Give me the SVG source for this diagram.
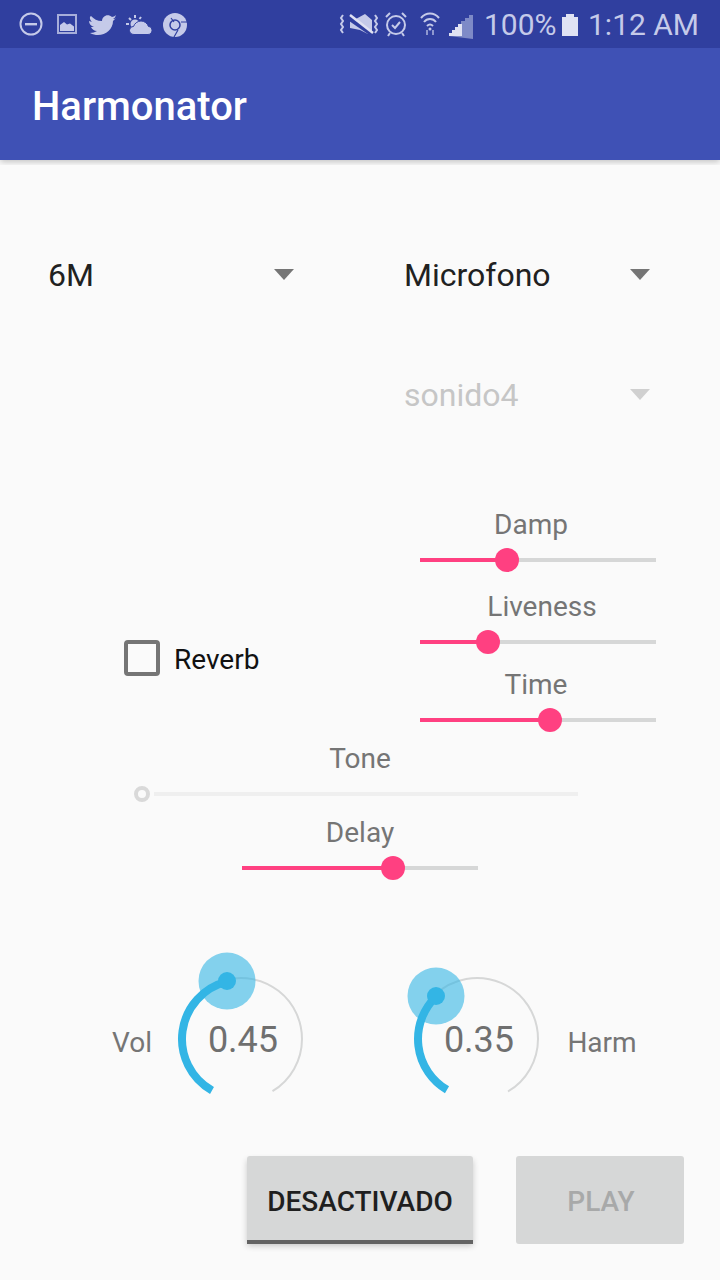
<svg xmlns="http://www.w3.org/2000/svg" width="720" height="1280" viewBox="0 0 720 1280">
<style>
text{font-family:Roboto,"Liberation Sans",sans-serif}
.lab{font-size:28px;fill:#757575;text-anchor:middle}
.track{stroke:#d6d7d7;stroke-width:4;fill:none}
.on{stroke:#ff4081;stroke-width:4;fill:none}
.thumb{fill:#ff4081}
.thin{stroke:#d6d7d7;stroke-width:2;fill:none}
.thick{stroke:#33b5e5;stroke-width:8;fill:none}
.halo{fill:#33b5e5;fill-opacity:.6}
.dot{fill:#33b5e5}
.val{font-size:36px;fill:#6f6f6f;text-anchor:middle}
.ic{fill:#c5cae9}
.ics{fill:none;stroke:#c5cae9;stroke-width:2}
.arrow{fill:#757575}
</style>
<defs>
<filter id="sh" x="-10%" y="-20%" width="120%" height="150%"><feGaussianBlur stdDeviation="3"/></filter>
</defs>
<rect width="720" height="1280" fill="#fafafa"/>
<g id="appbar">
<rect x="0" y="153" width="720" height="9" fill="#000" opacity=".22" filter="url(#sh)"/>
<rect width="720" height="48" fill="#303f9f"/>
<rect y="48" width="720" height="112" fill="#3f51b5"/>
<text x="32" y="120" font-size="40" font-weight="500" fill="#fff" textLength="215" lengthAdjust="spacingAndGlyphs">Harmonator</text>
</g>
<g id="status-left">
<circle cx="31" cy="24" r="10.5" class="ics"/><rect x="25" y="23" width="12" height="2.400" class="ic"/>
<rect x="58" y="15" width="18" height="18" class="ics" stroke-opacity=".8"/><path class="ic" d="M60 31v-6l4-3 3 2.500 3-1 4 3v4.500z"/>
<path class="ic" d="M91 16c3 3 6 5 11 5 0-5 6-8 10-4 1 0 3-1 4-2-.5 1.500-1 3-3 4 1 0 2 0 3-1-1 1-2 2-3 3 0 8-7 14-15 14-3 0-5-.5-8-2 3 0 5-1 7-2-3 0-5-2-6-4h3c-3-1-5-3-5-6l3 1c-2-2-3-5-1-6z"/>
<circle cx="135" cy="24" r="4.500" class="ic"/><path class="ics" stroke-width="1.500" d="M126 24h3M135 15v3M129 18l2 2M141 17l-1.500 2"/>
<path class="ic" stroke="#303f9f" stroke-width="1" d="M134 34.500c-3 0-4.500-2-4.500-4s1.500-4 4-4c1-3 4-5.500 7.500-5.500s6.500 2.500 7.500 5.500c2.500 0 3.500 2 3.500 4s-1.500 4-4 4z"/>
<circle cx="175" cy="25" r="12" class="ic"/><circle cx="175" cy="25" r="5" fill="none" stroke="#303f9f" stroke-width="1.500"/><path d="M171 18l3 4M181 22h6M178 30l-4 7" stroke="#303f9f" stroke-width="1.200" fill="none"/>
</g>
<g id="status-right">
<path class="ic" d="M350 20l4 0 11-6 7 6v14l-4 0-8-4-10-2z"/><path d="M347 17l26 18" stroke="#303f9f" stroke-width="4"/><path d="M350 15l23 18" stroke="#e0e2f3" stroke-width="2.500"/>
<path class="ics" stroke-width="1.500" d="M343 15l-2 3 2 3-2 3 2 3-2 3 2 3M375 15l2 3-2 3 2 3-2 3 2 3-2 3"/>
<circle cx="396" cy="25" r="9" class="ics"/><path class="ics" d="M392 25l3 3 5-6M386 17l4-4M406 17l-4-4M390 33l-2 3M402 33l2 3"/>
<path class="ics" stroke-width="2" d="M421 18c5-6 13-6 18 0M424 22c3-4 9-4 12 0M427 26c2-2 4-2 6 0"/><circle cx="430" cy="29" r="1.500" class="ic"/>
<path d="M427 35v-5M433 35v-5" stroke="#8f98cf" stroke-width="2"/>
<path d="M449 36v-3h3v-3h3v-3h3v-3h3v-3h4v-3h4v-3h4v24z" fill="#7e8ac7"/><path d="M449 36v-3h3v-3h3v-3h3v-3h4v12z" fill="#dfe1f2"/>
<text x="484" y="35" font-size="30" fill="#c5cae9">100%</text>
<path d="M562 17h4v-3h8v3h4v19h-16z" fill="#e0e2f3"/>
<text x="588" y="35" font-size="30" fill="#c5cae9">1:12 AM</text>
</g>
<g id="spinner-6m"><text x="48" y="286" font-size="32" fill="#212121">6M</text><path class="arrow" d="M274 269h20l-10 11z"/></g>
<g id="spinner-mic"><text x="404" y="286" font-size="32" fill="#212121">Microfono</text><path class="arrow" d="M630 269h20l-10 11z"/></g>
<g id="spinner-sonido"><text x="404" y="406" font-size="32" fill="#c6c6c6">sonido4</text><path d="M630 389h20l-10 11z" fill="#d0d0d0"/></g>
<g id="damp"><text class="lab" x="531" y="534">Damp</text><path class="track" d="M507 560H656"/><path class="on" d="M420 560H507"/><circle class="thumb" cx="507" cy="560" r="12"/></g>
<g id="liveness"><text class="lab" x="542" y="616">Liveness</text><path class="track" d="M488 642H656"/><path class="on" d="M420 642H488"/><circle class="thumb" cx="488" cy="642" r="12"/></g>
<g id="time"><text class="lab" x="536" y="694">Time</text><path class="track" d="M550 720H656"/><path class="on" d="M420 720H550"/><circle class="thumb" cx="550" cy="720" r="12"/></g>
<g id="reverb"><rect x="126" y="642" width="32" height="32" rx="2" fill="none" stroke="#757575" stroke-width="4"/><text x="174" y="669" font-size="28" fill="#111">Reverb</text></g>
<g id="tone"><text class="lab" x="360" y="768">Tone</text><path d="M154 794H578" stroke="#efefef" stroke-width="4"/><circle cx="142" cy="794" r="6" fill="none" stroke="#d9d9d9" stroke-width="4"/></g>
<g id="delay"><text class="lab" x="360" y="842">Delay</text><path class="track" d="M393 868H478"/><path class="on" d="M242 868H393"/><circle class="thumb" cx="393" cy="868" r="12"/></g>
<g id="vol">
<text class="lab" x="132" y="1052">Vol</text>
<path class="thin" d="M226.700 979.700A61 61 0 0 1 302 1039A61 61 0 0 1 272.500 1091.200"/>
<path class="thick" d="M212 1090.400A59 59 0 0 1 227 981.700"/>
<circle class="halo" cx="227" cy="981" r="28.500"/><circle class="dot" cx="227" cy="981" r="9"/>
<text class="val" x="243" y="1052">0.45</text>
</g>
<g id="harm">
<text class="lab" x="602" y="1052">Harm</text>
<path class="thin" d="M434.900 994.800A61 61 0 0 1 538 1039A61 61 0 0 1 508 1091.500"/>
<path class="thick" d="M447 1089.800A59 59 0 0 1 436 996.600"/>
<circle class="halo" cx="436" cy="996" r="28.500"/><circle class="dot" cx="436" cy="996" r="9"/>
<text class="val" x="479" y="1052">0.35</text>
</g>
<g id="btn-desactivado">
<rect x="247" y="1160" width="226" height="86" fill="#000" opacity=".2" filter="url(#sh)"/>
<path d="M250 1156h220a3 3 0 0 1 3 3v85h-226v-85a3 3 0 0 1 3-3z" fill="#d6d7d7"/>
<rect x="247" y="1240" width="226" height="4" fill="#636363"/>
<text x="360" y="1211" font-size="28" font-weight="500" fill="#1f1f1f" text-anchor="middle">DESACTIVADO</text>
</g>
<g id="btn-play">
<rect x="516" y="1156" width="168" height="88" rx="3" fill="#d6d7d7"/>
<text x="601" y="1211" font-size="28" font-weight="500" fill="#a8a9a9" text-anchor="middle">PLAY</text>
</g>
</svg>
